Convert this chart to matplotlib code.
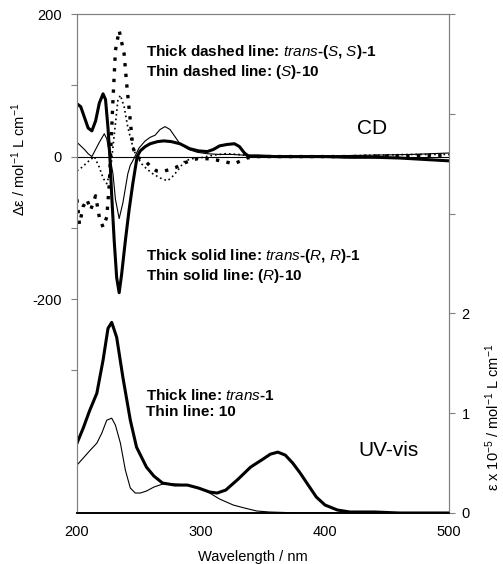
import matplotlib
matplotlib.use('Agg')
import matplotlib.pyplot as plt

plt.rcParams['font.family'] = ['Liberation Sans', 'DejaVu Sans']
plt.rcParams['mathtext.fontset'] = 'custom'
plt.rcParams['mathtext.rm'] = 'Liberation Sans'
plt.rcParams['mathtext.it'] = 'Liberation Sans:italic'
plt.rcParams['mathtext.bf'] = 'Liberation Sans:bold'

# CD spectra (delta epsilon)
wl_rr1 = [200, 203, 206, 209, 212, 215, 218, 221, 223, 225, 226.5, 228, 230, 232, 234, 236, 239, 242,
          245, 248.5, 251, 255, 259, 265, 270, 276, 283, 291, 298, 305, 310, 315, 321, 327, 331, 335,
          338, 345, 360, 380, 400, 420, 440, 460, 480, 500]
cd_rr1 = [74, 70, 55, 40, 36, 50, 75, 88, 80, 40, 0, -55, -118, -170, -191, -165, -118, -75,
          -38, 0, 8, 14, 18, 21, 22, 21, 18, 11, 8, 7, 10, 15, 17, 18, 14, 5,
          1, 1, 0, 0, 0, -1, -1, -2, -4, -6]

wl_r10 = [200, 203, 206, 209, 212, 215, 218, 222, 224, 226, 229, 231, 234, 237, 241, 243, 245, 250,
          255, 259, 263, 267, 271, 275, 279, 283, 290, 297, 305, 315, 325, 335, 345, 360, 400, 440,
          470, 500]
cd_r10 = [20, 15, 10, 4, 0, 10, 20, 32, 25, 5, -24, -60, -87, -65, -24, -12, -6, 12,
          22, 27, 30, 38, 42, 38, 28, 18, 10, 6, 4, 3, 3, 2, 1, 0, 1, 2,
          3, 5]

wl_ss1 = [200, 202, 205, 208, 211, 215, 218, 221, 224, 226, 229, 231, 234, 238, 240, 243, 245, 248,
          252, 256, 260, 264, 269, 275, 280, 285, 291, 297, 305, 313, 321, 327, 332, 337, 345, 380,
          420, 460, 500]
cd_ss1 = [-60, -95, -70, -60, -75, -55, -85, -99, -85, -40, 79, 149, 177, 144, 103, 50, 13, 0,
          -4, -8, -15, -20, -21, -18, -15, -10, -6, -3, -3, -5, -8, -10, -6, -2, 0, 0,
          0, 1, 2]

wl_s10 = [200, 204, 209, 214, 218, 221, 224, 227, 230, 233, 235, 238, 241, 244, 247, 252, 256, 261,
          267, 273, 277, 281, 287, 293, 299, 310, 320, 330, 340, 360, 400, 440, 470, 500]
cd_s10 = [-20, -15, -7, 0, -15, -30, -38, -20, 30, 79, 86, 70, 41, 20, 4, -10, -17, -24,
          -30, -34, -28, -20, -6, -3, -2, 2, 4, 3, 1, 0, 0, 2, 3, 3]

# UV-vis spectra (epsilon x 10^-5)
wl_uv1 = [200, 205, 210, 216, 221, 225, 228, 232, 237, 243, 248, 256, 262, 269, 279, 289, 298, 307,
          313, 320, 330, 340, 350, 356, 362, 368, 374, 380, 387, 393, 400, 410, 420, 440, 460, 500]
uv_1 = [0.70, 0.85, 1.02, 1.20, 1.53, 1.85, 1.91, 1.76, 1.36, 0.93, 0.66, 0.46, 0.37, 0.30, 0.28, 0.28, 0.25, 0.21,
        0.20, 0.23, 0.34, 0.46, 0.54, 0.59, 0.61, 0.58, 0.50, 0.40, 0.27, 0.16, 0.08, 0.03, 0.01, 0.01, 0.0, 0.0]

wl_uv10 = [200, 205, 210, 216, 220, 224, 228, 231, 235, 239, 243, 247, 251, 256, 262, 269, 279, 289,
           299, 307, 315, 326, 335, 345, 355, 380, 500]
uv_10 = [0.48, 0.55, 0.62, 0.70, 0.80, 0.93, 0.95, 0.88, 0.70, 0.43, 0.25, 0.20, 0.20, 0.22, 0.26, 0.29, 0.29, 0.28,
         0.25, 0.20, 0.14, 0.08, 0.05, 0.02, 0.01, 0.0, 0.0]

W, H = 503, 564
fig = plt.figure(figsize=(W / 100, H / 100), dpi=100)
ax = fig.add_axes([77 / W, 51 / H, 372 / W, 499 / H])
ax2 = ax.twinx()

grey = '#808080'
ax.axhline(0, color='black', lw=0.8, zorder=1)
ax.plot(wl_rr1, cd_rr1, color='black', lw=2.2)
ax.plot(wl_r10, cd_r10, color='black', lw=0.8)
ax.plot(wl_ss1, cd_ss1, color='black', lw=2.4, linestyle=(0, (1, 2.2)))
ax.plot(wl_s10, cd_s10, color='black', lw=1.2, linestyle=(0, (1, 1.8)))
ax2.plot(wl_uv1, uv_1, color='black', lw=2.2)
ax2.plot(wl_uv10, uv_10, color='black', lw=0.8)

ax.set_xlim(200, 500)
ax.set_ylim(-500, 200)
ax2.set_ylim(0, 5)

ax.set_xticks([200, 300, 400, 500])
ax.set_yticks([-300, -200, -100, 0, 100, 200])
ax.set_yticklabels(['', '-200', '', '0', '', '200'])
ax2.set_yticks([0, 1, 2, 3, 4, 5])
ax2.set_yticklabels(['0', '1', '2', '', '', ''])

ax.tick_params(axis='x', length=0, pad=9, labelsize=10.5)
ax.tick_params(axis='y', length=4, color=grey, pad=7, labelsize=10.5)
ax2.tick_params(axis='y', length=4, color=grey, pad=5, labelsize=10.5)

for a in (ax, ax2):
    for s in ('left', 'right', 'top'):
        a.spines[s].set_color(grey)
        a.spines[s].set_linewidth(0.8)
    a.spines['bottom'].set_color('black')
    a.spines['bottom'].set_linewidth(1.2)

fs = 11
ax.text(255.6, 146, r'Thick dashed line: $\mathit{trans}$-($\mathit{S}$, $\mathit{S}$)-1',
        fontsize=fs, fontweight='bold', va='center')
ax.text(255.6, 118, r'Thin dashed line: ($\mathit{S}$)-10', fontsize=fs, fontweight='bold', va='center')
ax.text(255.6, -139, r'Thick solid line: $\mathit{trans}$-($\mathit{R}$, $\mathit{R}$)-1',
        fontsize=fs, fontweight='bold', va='center')
ax.text(255.6, -167, r'Thin solid line: ($\mathit{R}$)-10', fontsize=fs, fontweight='bold', va='center')
ax2.text(255.6, 1.18, r'Thick line: $\mathit{trans}$-1', fontsize=fs, fontweight='bold', va='center')
ax2.text(255.6, 1.01, 'Thin line: 10', fontsize=fs, fontweight='bold', va='center')
ax.text(425.8, 39, 'CD', fontsize=15, va='center')
ax2.text(426.6, 0.63, 'UV-vis', fontsize=15, va='center')

fig.text(19 / W, 1 - 159 / H, 'Δε / mol$^{-1}$ L cm$^{-1}$', rotation=90,
         ha='center', va='center', fontsize=10.5)
fig.text(493 / W, 1 - 417 / H, 'ε x 10$^{-5}$ / mol$^{-1}$ L cm$^{-1}$', rotation=90,
         ha='center', va='center', fontsize=10.5)
fig.text(253 / W, 1 - 557 / H, 'Wavelength / nm', ha='center', va='center', fontsize=10.5)

fig.savefig('out.png', dpi=100)
